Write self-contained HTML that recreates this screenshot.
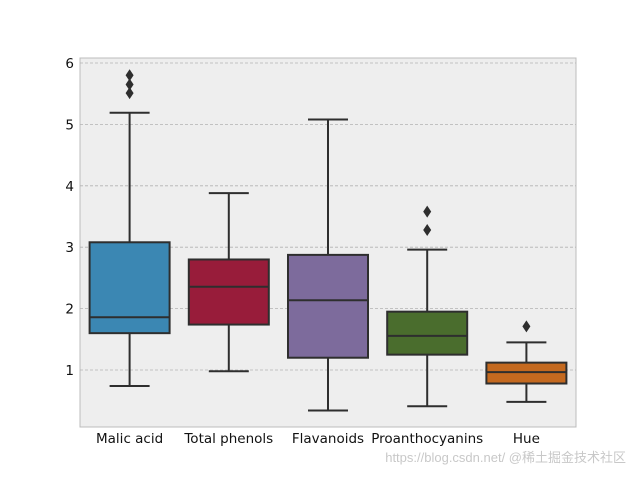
<!DOCTYPE html>
<html><head><meta charset="utf-8"><style>
body{margin:0;background:#fff;font-family:"DejaVu Sans","Liberation Sans",sans-serif;}
</style></head><body>
<svg width="640" height="480" id="c" xmlns="http://www.w3.org/2000/svg">
<rect x="80" y="58" width="496" height="369" fill="#eeeeee" stroke="#bcbcbc"/>
<g id="grid"></g><g id="boxes"></g><g id="ticks"></g>
<text x="626" y="462" font-size="13" fill="#c8c8c8" text-anchor="end" font-family="'Liberation Sans','Noto Sans CJK SC',sans-serif">https://blog.csdn.net/ @稀土掘金技术社区</text>
</svg>
<script>
const categories=["Malic acid","Total phenols","Flavanoids","Proanthocyanins","Hue"];
const whiskLow=[0.74,0.98,0.34,0.41,0.48];
const q1=[1.6,1.74,1.2,1.25,0.78];
const medians=[1.86,2.355,2.135,1.555,0.965];
const q3=[3.08,2.80,2.875,1.95,1.12];
const whiskHigh=[5.19,3.88,5.08,2.96,1.45];
const outliers=[[5.51,5.65,5.80],[],[],[3.28,3.58],[1.71]];
const colors=["#3b87b3","#981c3a","#7d6b9c","#4a6d2d","#c4691f"];
const yTicks=[1,2,3,4,5,6];
const NS="http://www.w3.org/2000/svg";
const X0=80,W=496;
function y(v){return 370-(v-1)*61.4;}
function xc(i){return X0+W/categories.length*(i+0.5);}
function mk(t,a,p){const e=document.createElementNS(NS,t);for(const k in a)e.setAttribute(k,a[k]);p.appendChild(e);return e;}
const grid=document.getElementById('grid'),bx=document.getElementById('boxes'),tk=document.getElementById('ticks');
yTicks.forEach(v=>{
 const l=mk('line',{x1:80,x2:576,y1:y(v),y2:y(v),stroke:'#b2b2b2','stroke-dasharray':'3,2','stroke-width':0.8},grid);
 
 
 const t=mk('text',{x:74,y:y(v)+5,'text-anchor':'end','font-size':13.5,fill:'#111'},tk);
 t.textContent=v;
 
 
});
categories.forEach((c,i)=>{
 const cx=xc(i),hw=40,st={stroke:'#2e2e2e','stroke-width':2,fill:'none'};
 const g=mk('g',{},bx);
 
 
 mk('line',Object.assign({x1:cx,x2:cx,y1:y(whiskLow[i]),y2:y(q1[i])},st),g);
 mk('line',Object.assign({x1:cx,x2:cx,y1:y(q3[i]),y2:y(whiskHigh[i])},st),g);
 mk('line',Object.assign({x1:cx-20,x2:cx+20,y1:y(whiskLow[i]),y2:y(whiskLow[i])},st),g);
 mk('line',Object.assign({x1:cx-20,x2:cx+20,y1:y(whiskHigh[i]),y2:y(whiskHigh[i])},st),g);
 mk('rect',{x:cx-hw,y:y(q3[i]),width:hw*2,height:y(q1[i])-y(q3[i]),fill:colors[i],stroke:'#2e2e2e','stroke-width':2},g);
 mk('line',Object.assign({x1:cx-hw,x2:cx+hw,y1:y(medians[i]),y2:y(medians[i])},st),g);
 outliers[i].forEach(o=>{
  const d=mk('polygon',{points:`${cx},${y(o)-6} ${cx+4},${y(o)} ${cx},${y(o)+6} ${cx-4},${y(o)}`,fill:'#2e2e2e'},g);
  
  
 });
 const t=mk('text',{x:cx,y:443,'text-anchor':'middle','font-size':13.5,fill:'#111'},tk);
 t.textContent=c;
 
 
});
</script>
</body></html>
